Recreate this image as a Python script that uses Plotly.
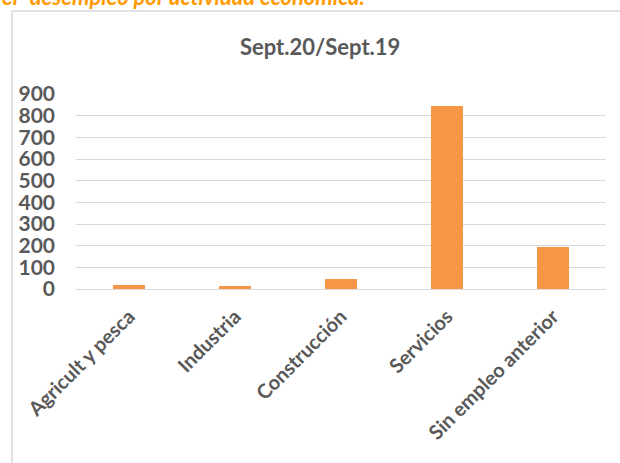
import plotly.graph_objects as go

categories = ["Agricult y pesca", "Industria", "Construcción", "Servicios", "Sin empleo anterior"]
values = [18, 14, 46, 845, 195]
y_ticks = [0, 100, 200, 300, 400, 500, 600, 700, 800, 900]
chart_title = "Sept.20/Sept.19"
top_caption = "er  desempleo por actividad económica."

W, H = 620, 463
ml, mr, mt, mb = 76, 14, 94, 174
pw, ph = W - ml - mr, H - mt - mb

def px_x(p):
    return (p - ml) / pw

def px_y(p):
    return (H - mb - p) / ph

FONT = "Lato"
GRAY = "#595959"
LINE = "#D9D9D9"

fig = go.Figure()
fig.add_trace(go.Bar(
    x=categories, y=values, width=0.31,
    marker=dict(color="#F79646", line=dict(width=0)),
    hoverinfo="skip",
))

fig.update_layout(
    width=W, height=H,
    margin=dict(l=ml, r=mr, t=mt, b=mb, autoexpand=False),
    paper_bgcolor="white", plot_bgcolor="white",
    showlegend=False,
    bargap=0,
    font=dict(family=FONT, color=GRAY),
)
fig.update_yaxes(
    range=[0, 900], tickvals=y_ticks, showgrid=True, gridcolor=LINE, gridwidth=1.3,
    zeroline=True, zerolinecolor=LINE, zerolinewidth=1.3, showline=False, ticks="",
    tickfont=dict(family=FONT, size=21, color=GRAY, weight="bold"),
    ticklabelstandoff=20, fixedrange=True,
)
fig.update_xaxes(
    type="category", showgrid=False, showline=False, ticks="", tickangle=-45,
    tickfont=dict(family=FONT, size=20, color=GRAY, weight="bold"),
    ticklabelstandoff=11, fixedrange=True,
)

fig.add_annotation(
    text=chart_title, xref="paper", yref="paper", x=px_x(320), y=px_y(46),
    xanchor="center", yanchor="middle", showarrow=False,
    font=dict(family=FONT, size=22, color=GRAY, weight="bold"),
)
fig.add_annotation(
    text=top_caption, xref="paper", yref="paper", x=px_x(0), y=px_y(-4),
    xanchor="left", yanchor="middle", showarrow=False,
    font=dict(family=FONT, size=22, color="#FF9A00", weight="bold", style="italic"),
)

# chart frame
fig.add_shape(type="line", xref="paper", yref="paper",
              x0=px_x(12), x1=px_x(12), y0=px_y(11), y1=px_y(470),
              line=dict(color=LINE, width=1.5))
fig.add_shape(type="line", xref="paper", yref="paper",
              x0=px_x(12), x1=px_x(630), y0=px_y(11), y1=px_y(11),
              line=dict(color=LINE, width=1.5))

fig.write_html("out.html", config={"displayModeBar": False},
               post_script="document.body.style.margin='0';document.body.style.overflow='hidden';")
